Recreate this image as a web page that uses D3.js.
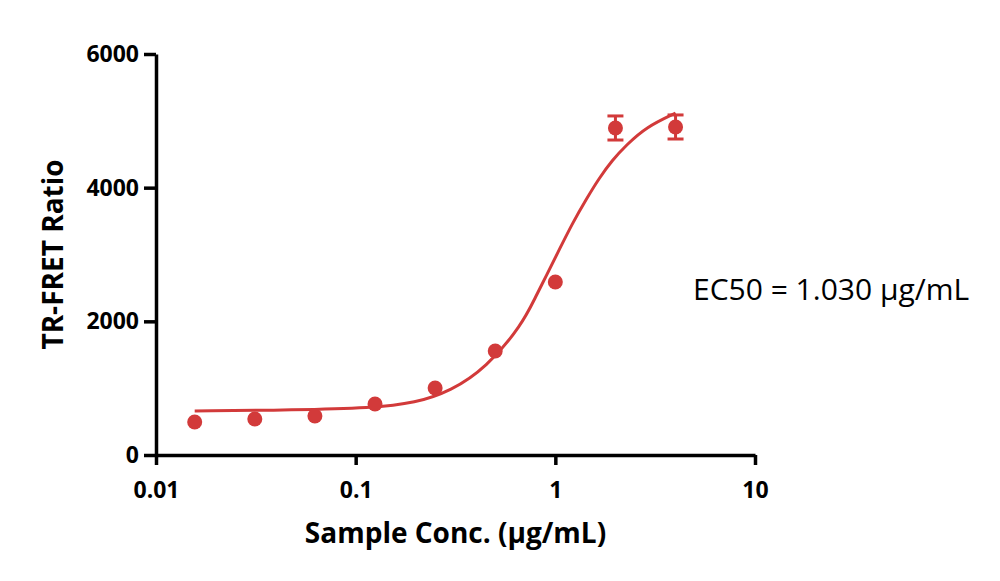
<!DOCTYPE html>
<html>
<head>
<meta charset="utf-8">
<script src="https://cdn.jsdelivr.net/npm/d3@7"></script>
<style>
  body { margin: 0; background: #fff; }
  svg { display: block; }
</style>
</head>
<body>
<div id="chart"></div>
<script>
// Dose-response data (TR-FRET ratio vs sample concentration)
const concs = [0.015625, 0.03125, 0.0625, 0.125, 0.25, 0.5, 1, 2, 4];
const ratios = [494, 539, 584, 763, 1002, 1556, 2589, 4893, 4908];
const errors = [0, 0, 0, 0, 0, 0, 0, 180, 180];

// fitted curve
const fitConcs = [0.015625, 0.05, 0.12, 0.2, 0.3, 0.45, 0.68, 0.8, 0.9, 1.05, 1.22, 1.43, 1.66, 1.93, 2.27, 2.85, 4];
const fitRatios = [658, 673, 703, 778, 958, 1302, 1945, 2379, 2678, 3082, 3471, 3831, 4145, 4414, 4639, 4908, 5117];

const xTicks = [0.01, 0.1, 1, 10];
const yTicks = [0, 2000, 4000, 6000];

const red = "#d23a3a";
const font = "'Open Sans', sans-serif";

const margin = { top: 54, right: 245, bottom: 126, left: 156 },
  width = 1000 - margin.left - margin.right,
  height = 581 - margin.top - margin.bottom;

const svg = d3.select("#chart")
  .append("svg")
  .attr("width", 1000)
  .attr("height", 581);

const chart = svg.append("g")
  .attr("transform", `translate(${margin.left},${margin.top})`);

const x = d3.scaleLog()
  .domain([0.01, 10])
  .range([0, width]);

const y = d3.scaleLinear()
  .domain([0, 6000])
  .range([height, 0]);

// X axis
const xAxis = chart.append("g")
  .attr("transform", `translate(0,${height})`)
  .call(d3.axisBottom(x)
    .tickValues(xTicks)
    .tickFormat(d => d3.format("~g")(d))
    .tickSize(10)
    .tickSizeOuter(0)
    .tickPadding(17));

// Y axis
const yAxis = chart.append("g")
  .call(d3.axisLeft(y)
    .tickValues(yTicks)
    .tickFormat(d3.format("d"))
    .tickSize(12)
    .tickSizeOuter(0)
    .tickPadding(5));

[xAxis, yAxis].forEach(ax => {
  ax.selectAll("path, line")
    .attr("stroke", "#000")
    .attr("stroke-width", 3.5);
  ax.selectAll("text")
    .attr("fill", "#000")
    .style("font-family", font)
    .style("font-weight", "bold")
    .style("font-size", "23px");
});

// axis titles
chart.append("text")
  .attr("x", width / 2)
  .attr("y", height + 88)
  .attr("text-anchor", "middle")
  .style("font-family", font)
  .style("font-weight", "bold")
  .style("font-size", "28px")
  .text("Sample Conc. (µg/mL)");

chart.append("text")
  .attr("transform", "rotate(-90)")
  .attr("x", -height / 2)
  .attr("y", -93)
  .attr("text-anchor", "middle")
  .style("font-family", font)
  .style("font-weight", "bold")
  .style("font-size", "28px")
  .text("TR-FRET Ratio");

// fitted curve
const line = d3.line()
  .x(d => x(d[0]))
  .y(d => y(d[1]))
  .curve(d3.curveBasis);

chart.append("path")
  .datum(d3.zip(fitConcs, fitRatios))
  .attr("d", line)
  .attr("fill", "none")
  .attr("stroke", red)
  .attr("stroke-width", 3);

const pts = concs.map((c, i) => ({ c: c, v: ratios[i], e: errors[i] }));

// error bars
const eb = chart.selectAll(".err")
  .data(pts.filter(d => d.e > 0))
  .join("g")
  .attr("class", "err")
  .attr("stroke", red)
  .attr("stroke-width", 3);

eb.append("line")
  .attr("x1", d => x(d.c)).attr("x2", d => x(d.c))
  .attr("y1", d => y(d.v - d.e)).attr("y2", d => y(d.v + d.e));
eb.append("line")
  .attr("x1", d => x(d.c) - 8).attr("x2", d => x(d.c) + 8)
  .attr("y1", d => y(d.v + d.e)).attr("y2", d => y(d.v + d.e));
eb.append("line")
  .attr("x1", d => x(d.c) - 8).attr("x2", d => x(d.c) + 8)
  .attr("y1", d => y(d.v - d.e)).attr("y2", d => y(d.v - d.e));

// points
chart.selectAll("circle")
  .data(pts)
  .join("circle")
  .attr("cx", d => x(d.c))
  .attr("cy", d => y(d.v))
  .attr("r", 7.5)
  .attr("fill", red);

// EC50 label
svg.append("text")
  .attr("x", 693)
  .attr("y", 300)
  .style("font-family", font)
  .style("font-size", "30px")
  .attr("fill", "#000")
  .text("EC50 = 1.030 µg/mL");
</script>
</body>
</html>
